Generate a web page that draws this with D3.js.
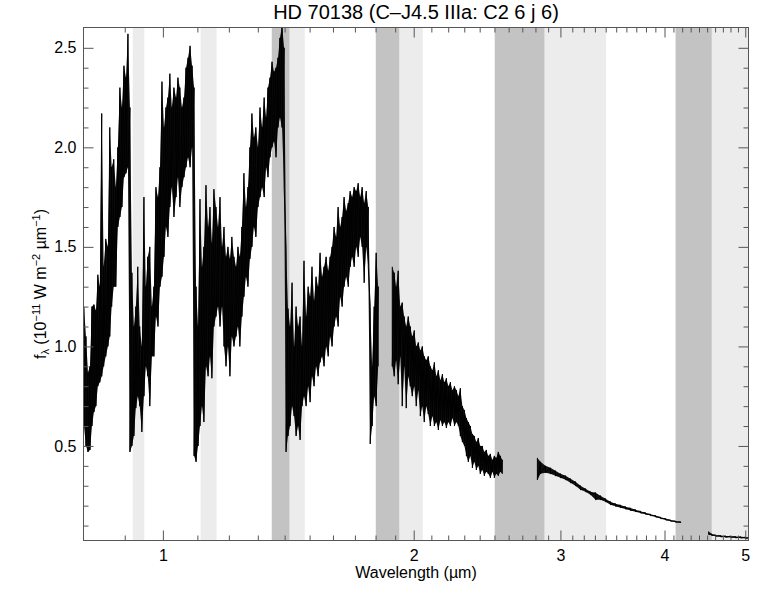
<!DOCTYPE html>
<html>
<head>
<meta charset="utf-8">
<script src="https://cdn.jsdelivr.net/npm/d3@7"></script>
<style>
  body { margin: 0; background: #fff; }
  text { font-family: "Liberation Sans", Arial, Helvetica, sans-serif; fill: #000; }
</style>
</head>
<body>
<svg id="chart" width="774" height="594"></svg>
<script>
// spectrum, read off the picture as upper / lower edge of the noise band
// segment A: 0.80 - 1.81 um
const waveA = [
  0.804,0.8085,0.813,0.8175,0.822,0.8265,0.831,0.8355,0.840,0.8445,
  0.849,0.854,0.859,0.8635,0.868,0.873,0.878,0.883,0.888,0.893,
  0.898,0.903,0.908,0.913,0.918,0.923,0.928,0.933,0.938,0.9435,
  0.949,0.954,0.959,0.9645,0.970,0.9755,0.981,0.9865,0.992,0.9975,
  1.003,1.0085,1.014,1.0195,1.025,1.031,1.037,1.0425,1.048,1.054,
  1.060,1.066,1.072,1.078,1.084,1.090,1.096,1.102,1.108,1.114,
  1.120,1.1265,1.133,1.139,1.145,1.1515,1.158,1.1645,1.171,1.1775,
  1.184,1.1905,1.197,1.2035,1.210,1.217,1.224,1.2305,1.237,1.244,
  1.251,1.258,1.265,1.272,1.279,1.286,1.293,1.3005,1.308,1.3155,
  1.323,1.330,1.337,1.3445,1.352,1.3595,1.367,1.3745,1.382,1.390,
  1.398,1.4055,1.413,1.421,1.429,1.437,1.445,1.453,1.461,1.469,
  1.477,1.4855,1.494,1.502,1.510,1.5185,1.527,1.5355,1.544,1.5525,
  1.561,1.570,1.579,1.5875,1.596,1.605,1.614,1.623,1.632,1.641,
  1.650,1.6595,1.669,1.678,1.687,1.6965,1.706,1.7155,1.725,1.7345,
  1.744,1.754,1.764,1.7735,1.783,1.793,1.803,1.813
];
const hiA = [
  1.2,1.05,0.87,0.9,1.2,1.21,1.18,1.36,1.3,2.17,
  1.4,1.54,1.5,2.1,1.9,1.94,1.8,2.0,2.3,2.2,
  2.41,2.35,2.57,2.2,1.37,1.1,1.2,1.4,1.1,1.0,
  1.75,1.3,1.45,1.5,1.2,1.3,1.8,1.75,1.9,2.33,
  2.1,2.2,2.25,2.37,2.2,2.3,2.25,2.35,2.3,2.2,
  2.25,2.4,2.45,2.51,2.41,2.3,1.3,1.1,1.74,1.4,
  1.5,1.81,1.6,1.7,1.52,1.79,1.7,1.6,1.75,1.5,
  1.6,1.45,1.5,1.44,1.55,1.45,1.4,1.5,1.45,1.6,
  1.87,1.7,1.8,2.0,2.17,2.05,2.1,2.0,2.2,2.1,
  2.25,2.15,2.3,2.35,2.43,2.38,2.4,2.45,2.55,2.61,
  2.5,1.5,1.19,1.1,1.32,1.0,1.2,1.1,1.15,1.0,
  1.43,1.15,1.3,1.25,1.4,1.23,1.35,1.3,1.47,1.35,
  1.4,1.45,1.38,1.45,1.5,1.6,1.55,1.7,1.6,1.65,
  1.75,1.68,1.72,1.78,1.75,1.8,1.78,1.82,1.75,1.8,
  1.72,1.78,1.7,1.2,0.9,1.2,1.47,1.3
];
const loA = [
  0.6,0.5,0.47,0.48,0.6,0.67,0.7,0.8,0.82,0.85,
  0.9,0.95,1.0,1.05,1.2,1.3,1.3,1.6,1.65,1.7,
  1.85,1.87,1.9,0.47,0.5,0.55,0.69,0.75,0.7,0.57,
  0.75,0.9,0.85,0.7,0.95,0.95,1.15,1.1,1.3,1.35,
  1.45,1.6,1.55,1.7,1.8,1.65,1.75,1.85,1.7,1.8,
  1.85,1.9,1.95,1.9,2.0,0.45,0.42,0.5,0.6,0.7,
  0.62,0.9,0.85,0.95,0.84,1.1,1.15,1.2,1.1,1.2,
  1.0,0.9,1.0,0.85,1.05,1.0,1.05,1.1,1.0,1.15,
  1.25,1.35,1.3,1.44,1.5,1.6,1.55,1.7,1.75,1.8,
  1.75,1.9,1.85,1.95,2.0,2.03,1.95,2.1,2.15,2.1,
  1.8,0.47,0.55,0.6,0.7,0.65,0.55,0.6,0.53,0.7,
  0.75,0.7,0.8,0.72,0.85,0.8,0.9,0.85,0.92,0.95,
  0.9,1.0,0.95,1.05,1.0,1.1,1.15,1.1,1.25,1.2,
  1.3,1.35,1.3,1.4,1.45,1.4,1.5,1.45,1.55,1.5,
  1.32,1.5,1.4,0.51,0.6,0.75,0.7,0.9
];

// segment B: 1.88 - 2.56 um
const waveB = [
  1.885,1.895,1.905,1.916,1.927,1.9375,1.948,1.959,1.970,1.981,
  1.992,2.003,2.014,2.0255,2.037,2.048,2.059,2.0705,2.082,2.094,
  2.106,2.1175,2.129,2.141,2.153,2.165,2.177,2.189,2.201,2.2135,
  2.226,2.2385,2.251,2.263,2.275,2.288,2.301,2.3135,2.326,2.339,
  2.352,2.365,2.378,2.391,2.404,2.4175,2.431,2.4445,2.458,2.472,
  2.486,2.4995,2.513,2.527,2.541,2.555
];
const hiB = [
  1.4,1.37,1.3,1.38,1.2,1.22,1.15,1.1,1.15,1.1,
  1.05,1.08,1.0,1.02,0.98,1.0,0.95,0.93,0.95,0.9,
  0.88,0.92,0.85,0.88,0.83,0.86,0.82,0.84,0.8,0.82,
  0.78,0.8,0.78,0.75,0.79,0.7,0.68,0.64,0.62,0.6,
  0.56,0.55,0.52,0.54,0.5,0.5,0.47,0.48,0.45,0.46,
  0.43,0.45,0.44,0.47,0.45,0.43
];
const loB = [
  0.9,0.85,0.93,0.81,0.95,0.7,0.9,0.69,0.85,0.8,
  0.75,0.8,0.7,0.78,0.65,0.7,0.62,0.7,0.66,0.6,
  0.65,0.6,0.62,0.58,0.63,0.6,0.62,0.59,0.62,0.6,
  0.64,0.6,0.62,0.6,0.55,0.52,0.5,0.45,0.42,0.45,
  0.39,0.42,0.38,0.4,0.36,0.38,0.35,0.37,0.36,0.34,
  0.37,0.34,0.36,0.35,0.37,0.36
];

// segment C: 2.82 - 4.18 um
const waveC = [2.815,2.839,2.878,2.918,2.959,3.001,3.043,3.085,3.128,3.171,
  3.216,3.260,3.306,3.351,3.398,3.445,3.493,3.542,3.591,3.641,
  3.692,3.743,3.795,3.848,3.902,3.957,4.012,4.068,4.124,4.182];
const hiC = [0.44,0.42,0.40,0.39,0.375,0.36,0.35,0.335,0.32,0.30,
  0.285,0.27,0.265,0.25,0.235,0.22,0.21,0.203,0.195,0.188,
  0.18,0.172,0.165,0.157,0.15,0.142,0.135,0.128,0.123,0.119];
const loC = [0.33,0.36,0.365,0.36,0.35,0.34,0.33,0.315,0.30,0.28,
  0.27,0.255,0.23,0.23,0.22,0.205,0.197,0.19,0.183,0.176,
  0.17,0.163,0.157,0.15,0.143,0.135,0.128,0.122,0.117,0.113];

// segment D: 4.52 - 5.05 um
const waveD = [4.519,4.558,4.608,4.672,4.737,4.803,4.869,4.937,5.006,5.048];
const hiD = [0.07,0.058,0.053,0.05,0.048,0.047,0.045,0.044,0.042,0.04];
const loD = [0.055,0.05,0.046,0.043,0.041,0.04,0.038,0.037,0.035,0.034];

// telluric bands (um)
const lightBands = [[0.920,0.950],[1.110,1.160],[1.419,1.480],[1.922,2.051],[2.871,3.404],[4.558,5.045]];
const darkBands = [[1.351,1.419],[1.801,1.922],[2.502,2.871],[4.124,4.558]];

const xMajor = [1, 2, 3, 4, 5];
const xMinor = [0.9, 1.1, 1.2, 1.3, 1.4, 1.5, 1.6, 1.7, 1.8, 1.9,
  2.1, 2.2, 2.3, 2.4, 2.5, 2.6, 2.7, 2.8, 2.9,
  3.1, 3.2, 3.3, 3.4, 3.5, 3.6, 3.7, 3.8, 3.9,
  4.1, 4.2, 4.3, 4.4, 4.5, 4.6, 4.7, 4.8, 4.9];
const yMajor = [0.5, 1.0, 1.5, 2.0, 2.5];
const yMinor = [0.1, 0.2, 0.3, 0.4, 0.6, 0.7, 0.8, 0.9, 1.1, 1.2, 1.3, 1.4,
  1.6, 1.7, 1.8, 1.9, 2.1, 2.2, 2.3, 2.4];

const titleText = "HD 70138 (C\u2013J4.5 IIIa: C2 6 j 6)";

const svg = d3.select("#chart");
const L = 83.5, R = 748.5, T = 27.5, B = 540.5;

const x = d3.scaleLog().domain([0.803, 5.045]).range([L, R]);
const y = d3.scaleLinear().domain([0.025, 2.602]).range([B, T]);

svg.append("defs").append("clipPath").attr("id", "plotclip")
  .append("rect").attr("x", L).attr("y", T).attr("width", R - L).attr("height", B - T);

const plot = svg.append("g").attr("clip-path", "url(#plotclip)");

function drawBands(bands, color) {
  plot.selectAll(null).data(bands).enter().append("rect")
    .attr("x", d => x(d[0]))
    .attr("width", d => x(d[1]) - x(d[0]))
    .attr("y", T).attr("height", B - T)
    .attr("fill", color);
}
drawBands(lightBands, "#ececec");
drawBands(darkBands, "#c3c3c3");

const segs = [[waveA, hiA, loA], [waveB, hiB, loB], [waveC, hiC, loC], [waveD, hiD, loD]];

// filled noise band between the upper and lower edge
const band = d3.area()
  .x(d => x(d[0])).y0(d => y(d[2])).y1(d => y(d[1]));
plot.selectAll(".noise").data(segs).enter().append("path")
  .attr("class", "noise")
  .attr("d", s => band(d3.zip(s[0], s[1], s[2])))
  .attr("fill", "#111");

// zig-zag between upper and lower edge, gives the ragged look
function zig(w, hi, lo) {
  const pts = [];
  w.forEach((v, i) => { pts.push([v, hi[i]]); pts.push([v, lo[i]]); });
  return pts;
}
const line = d3.line().x(d => x(d[0])).y(d => y(d[1]));
plot.selectAll(".spec").data(segs).enter().append("path")
  .attr("class", "spec")
  .attr("d", s => line(zig(s[0], s[1], s[2])))
  .attr("fill", "none")
  .attr("stroke", "#000")
  .attr("stroke-width", 1);

// axes
const axisColor = "#555";
function styleAxis(g) {
  g.select(".domain").remove();
  g.selectAll(".tick line").attr("stroke", axisColor);
  g.selectAll(".tick text").attr("font-size", 16).attr("fill", "#000")
    .style("font-family", "'Liberation Sans', Arial, sans-serif");
}

svg.append("g").attr("transform", `translate(0,${B})`)
  .call(d3.axisBottom(x).tickValues(xMajor).tickFormat(d3.format("d")).tickSize(-10).tickPadding(9))
  .call(styleAxis);
svg.append("g").attr("transform", `translate(0,${B})`)
  .call(d3.axisBottom(x).tickValues(xMinor).tickFormat("").tickSize(-5))
  .call(styleAxis);
svg.append("g").attr("transform", `translate(0,${T})`)
  .call(d3.axisTop(x).tickValues(xMajor).tickFormat("").tickSize(-10))
  .call(styleAxis);
svg.append("g").attr("transform", `translate(0,${T})`)
  .call(d3.axisTop(x).tickValues(xMinor).tickFormat("").tickSize(-5))
  .call(styleAxis);

svg.append("g").attr("transform", `translate(${L},0)`)
  .call(d3.axisLeft(y).tickValues(yMajor).tickFormat(d3.format(".1f")).tickSize(-10).tickPadding(7))
  .call(styleAxis);
svg.append("g").attr("transform", `translate(${L},0)`)
  .call(d3.axisLeft(y).tickValues(yMinor).tickFormat("").tickSize(-5))
  .call(styleAxis);
svg.append("g").attr("transform", `translate(${R},0)`)
  .call(d3.axisRight(y).tickValues(yMajor).tickFormat("").tickSize(-10))
  .call(styleAxis);
svg.append("g").attr("transform", `translate(${R},0)`)
  .call(d3.axisRight(y).tickValues(yMinor).tickFormat("").tickSize(-5))
  .call(styleAxis);

// frame
svg.append("rect").attr("x", L).attr("y", T).attr("width", R - L).attr("height", B - T)
  .attr("fill", "none").attr("stroke", axisColor).attr("stroke-width", 1);

// title & labels
svg.append("text").attr("x", (L + R) / 2).attr("y", 19)
  .attr("text-anchor", "middle").attr("font-size", 20).text(titleText);

svg.append("text").attr("x", (L + R) / 2).attr("y", 578)
  .attr("text-anchor", "middle").attr("font-size", 16).text("Wavelength (\u00b5m)");

const yl = svg.append("text")
  .attr("transform", `translate(46,${(T + B) / 2}) rotate(-90)`)
  .attr("text-anchor", "middle").attr("font-size", 16);
yl.append("tspan").text("f");
yl.append("tspan").attr("font-size", 11).attr("dy", 3).text("\u03bb");
yl.append("tspan").attr("dy", -3).text(" (10");
yl.append("tspan").attr("font-size", 11).attr("dy", -6).text("\u221211");
yl.append("tspan").attr("dy", 6).text(" W m");
yl.append("tspan").attr("font-size", 11).attr("dy", -6).text("\u22122");
yl.append("tspan").attr("dy", 6).text(" \u00b5m");
yl.append("tspan").attr("font-size", 11).attr("dy", -6).text("\u22121");
yl.append("tspan").attr("dy", 6).text(")");
</script>
</body>
</html>
